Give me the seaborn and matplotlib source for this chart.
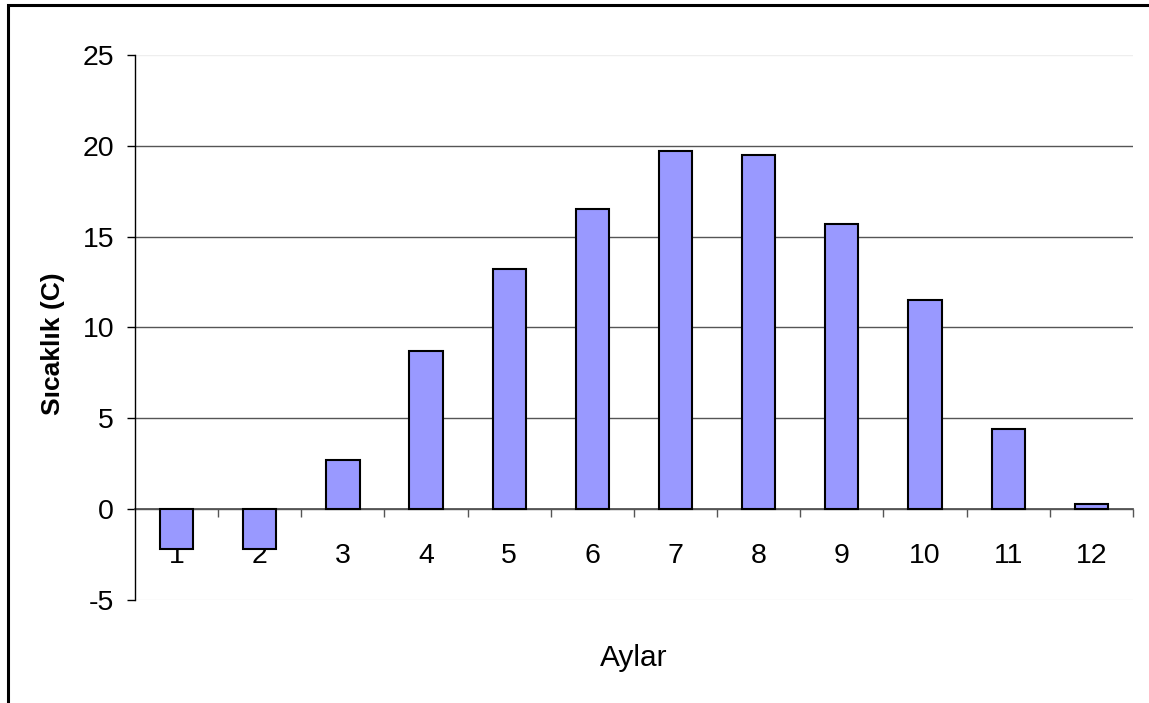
import matplotlib
matplotlib.use("Agg")
import matplotlib.pyplot as plt
from matplotlib.patches import Rectangle
import seaborn as sns

months = ["1", "2", "3", "4", "5", "6", "7", "8", "9", "10", "11", "12"]
temps = [-2.2, -2.2, 2.7, 8.7, 13.2, 16.5, 19.7, 19.5, 15.7, 11.5, 4.4, 0.3]
yticks = [-5, 0, 5, 10, 15, 20, 25]

sns.set_style("white")
plt.rcParams["font.family"] = ["Liberation Sans", "DejaVu Sans"]
plt.rcParams["text.color"] = "black"
plt.rcParams["axes.labelcolor"] = "black"

fig = plt.figure(figsize=(11.49, 7.03), dpi=100)
ax = fig.add_axes([0.1175, 0.1465, 0.8685, 0.7753])

sns.barplot(x=months, y=temps, order=months, color="#9999FF", saturation=1,
            edgecolor="black", linewidth=1.5, width=0.4, ax=ax, zorder=3)

ax.set_ylim(-5, 25)
ax.set_xlim(-0.5, len(months) - 0.5)
ax.set_yticks(yticks)
ax.set_yticklabels([str(v) for v in yticks])

# gridlines: dark inside, faint at the plot edges
ax.yaxis.grid(True, color="#555555", linewidth=1.0, zorder=0)
ax.set_axisbelow(True)
gls = ax.yaxis.get_gridlines()
gls[0].set_color("#eeeeee")
gls[-1].set_color("#eeeeee")

for s in ["top", "right"]:
    ax.spines[s].set_visible(False)
ax.spines["left"].set_color("black")
ax.spines["left"].set_linewidth(1.0)
ax.spines["bottom"].set_position(("data", 0))
ax.spines["bottom"].set_color("#555555")
ax.spines["bottom"].set_linewidth(1.3)
ax.spines["bottom"].set_zorder(2)

ax.tick_params(axis="y", direction="out", length=6, width=1, color="black",
               labelsize=20.5, labelcolor="black", pad=9, left=True)
ax.tick_params(axis="x", which="major", length=0, labelsize=20.5, labelcolor="black", pad=24)
ax.set_xticks([i + 0.5 for i in range(len(months) - 1)] + [len(months) - 0.5], minor=True)
ax.tick_params(axis="x", which="minor", direction="out", length=6, width=1,
               color="#555555", bottom=True)

ax.set_xlabel("Aylar", fontsize=21.5, color="black", va="center")
ax.set_ylabel("Sıcaklık (C)", fontsize=19, fontweight="bold", color="black", va="center")
ax.xaxis.set_label_coords(0.5, -0.106)
ax.yaxis.set_label_coords(-0.082, 0.47)

fig.patches.append(Rectangle((8 / 1149, -0.1), 1.2, 1.1 - 5 / 703, transform=fig.transFigure,
                             fill=False, edgecolor="black", linewidth=2.2, clip_on=False))

fig.savefig("out.png", dpi=100, facecolor="white")
